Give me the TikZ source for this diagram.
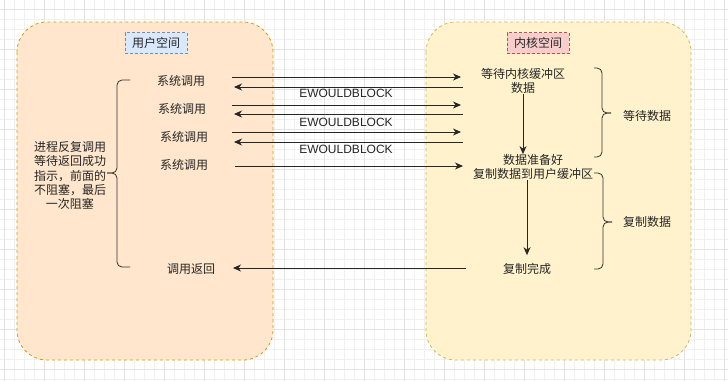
\documentclass[tikz,border=0pt]{standalone}
\usepackage{fontspec}
\setmainfont{Noto Sans CJK SC}
\newfontfamily\latinfont{Liberation Sans}
\usetikzlibrary{arrows.meta}

\definecolor{userfill}{HTML}{FFE6CC}
\definecolor{userline}{HTML}{D79B00}
\definecolor{kernfill}{HTML}{FFF2CC}
\definecolor{kernline}{HTML}{D6B656}
\definecolor{usertagfill}{HTML}{DAE8FC}
\definecolor{usertagline}{HTML}{6C8EBF}
\definecolor{kerntagfill}{HTML}{F8CECC}
\definecolor{kerntagline}{HTML}{B85450}

\begin{document}
\begin{tikzpicture}[x=1pt, y=-1pt,
  every node/.style={font=\fontsize{12}{14.2}\selectfont, inner sep=0pt, text=black!85},
  arr/.style={-{Stealth[length=8pt,width=7pt,inset=2.5pt]}, line width=0.9pt, black!85},
  space/.style={rounded corners=30pt, dash pattern=on 3pt off 3pt, line width=0.8pt},
  tag/.style={draw, dash pattern=on 3pt off 2pt, line width=0.7pt, minimum width=62pt, minimum height=21pt},
  bracket/.style={rounded corners=5pt, line width=0.8pt, black!80},
  gridminor/.style={black!6, line width=0.5pt},
  gridmajor/.style={black!11, line width=0.5pt}]

  \useasboundingbox (0,0) rectangle (728,381);

  % background grid
  \foreach \gx in {4,14,...,724} \draw[gridminor] (\gx,0) -- (\gx,381);
  \foreach \gy in {9,19,...,379} \draw[gridminor] (0,\gy) -- (728,\gy);
  \foreach \gx in {4,44,...,724} \draw[gridmajor] (\gx,0) -- (\gx,381);
  \foreach \gy in {9,49,...,369} \draw[gridmajor] (0,\gy) -- (728,\gy);

  % user space
  \draw[space, draw=userline, fill=userfill] (17,22) rectangle (273,360);
  \node[tag, draw=usertagline, fill=usertagfill] (usertag) at (156,43) {用户空间};

  \node (sys1) at (181,81) {系统调用};
  \node (sys2) at (182,109) {系统调用};
  \node (sys3) at (184,137) {系统调用};
  \node (sys4) at (184,165) {系统调用};
  \node (ret) at (191,269) {调用返回};

  \node[align=center] (note) at (70,175.5) {进程反复调用\\等待返回成功\\指示，前面的\\不阻塞，最后\\一次阻塞};
  \draw[bracket] (130,80) -- (117,80) -- (117,173) -- (107,173);
  \draw[bracket] (107,173) -- (117,173) -- (117,267) -- (130,267);

  % kernel space
  \draw[space, draw=kernline, fill=kernfill] (426,22) rectangle (691,360);
  \node[tag, draw=kerntagline, fill=kerntagfill] (kerntag) at (538,43) {内核空间};

  \node[align=center] (kwait) at (523,81) {等待内核缓冲区\\数据};
  \node[align=center] (kready) at (533,167) {数据准备好\\复制数据到用户缓冲区};
  \node (kdone) at (527,269) {复制完成};

  \draw[bracket] (594,68) -- (602,68) -- (602,113) -- (611,113);
  \draw[bracket] (611,113) -- (602,113) -- (602,157) -- (594,157);
  \node (waitdata) at (647,116) {等待数据};

  \draw[bracket] (594,173) -- (603,173) -- (603,222) -- (612,222);
  \draw[bracket] (612,222) -- (603,222) -- (603,269) -- (594,269);
  \node (copydata) at (647,222) {复制数据};

  \draw[arr] (kwait.south) -- (kwait.south |- kready.north);
  \draw[arr] (kready.south -| kdone.north) -- ([yshift=8pt]kdone.north);

  % calls and EWOULDBLOCK replies
  \foreach \i/\yc/\ye/\yt in {1/77/87/93.5, 2/105/114/122, 3/132/142/149.5}{
    \coordinate (callu\i) at (232,\yc); \coordinate (callk\i) at (461,\yc);
    \coordinate (erru\i) at (234,\ye); \coordinate (errk\i) at (463,\ye);
    \draw[arr] (callu\i) -- (callk\i);
    \draw[arr] (errk\i) -- (erru\i);
    \node[font=\latinfont\fontsize{12}{14}\selectfont] (err\i) at (346,\yt) {EWOULDBLOCK};
  }
  \coordinate (callu4) at (235,166); \coordinate (callk4) at (463,166);
  \draw[arr] (callu4) -- (callk4);

  \coordinate (retk) at (466,268); \coordinate (retu) at (233,268);
  \draw[arr] (retk) -- (retu);
\end{tikzpicture}
\end{document}
